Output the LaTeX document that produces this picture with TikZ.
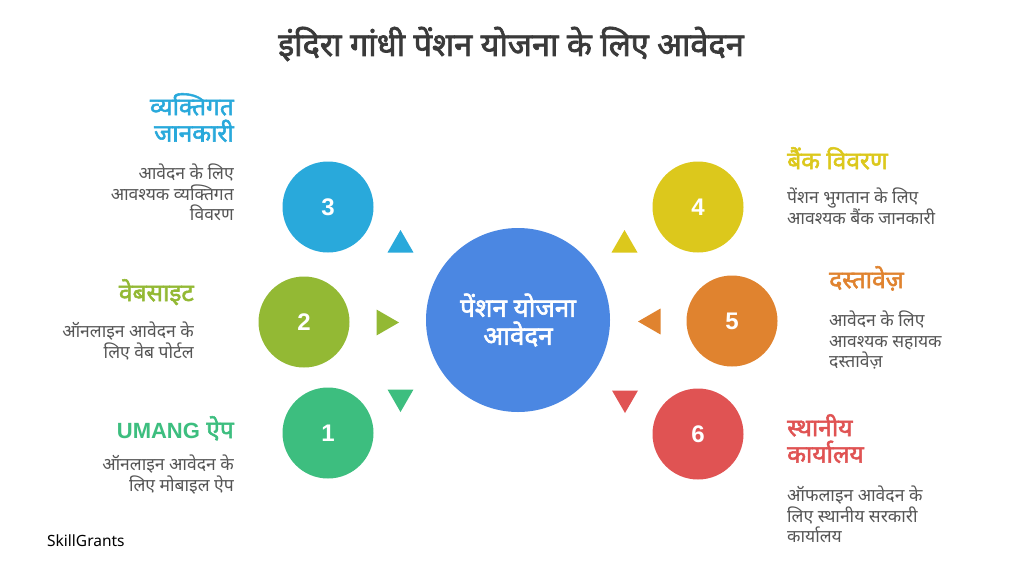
\documentclass[tikz,border=0pt]{standalone}
\usepackage{fontspec}
\setmainfont{Noto Sans}
\newfontfamily\deva[Script=Devanagari, AutoFakeBold=2.2]{Noto Sans}
\newfontfamily\numfont{Liberation Sans}
\usetikzlibrary{shapes.geometric}
\definecolor{cthree}{HTML}{29A9DB}
\definecolor{ctwo}{HTML}{93B934}
\definecolor{cone}{HTML}{3DBE7F}
\definecolor{cfour}{HTML}{DCC81C}
\definecolor{cfive}{HTML}{E0832F}
\definecolor{csix}{HTML}{E05353}
\definecolor{ccenter}{HTML}{4B87E2}
\definecolor{desc}{HTML}{555555}
\definecolor{ttl}{HTML}{3A3A3A}
\tikzset{
  numcirc/.style={circle, minimum size=91pt, inner sep=0pt, text=white, font=\numfont\fontsize{24}{28}\selectfont\bfseries},
  tri/.style={regular polygon, regular polygon sides=3, minimum size=30pt, inner sep=0pt},
  headR/.style={anchor=north east, align=right, inner sep=0pt, font=\deva\fontsize{24.5}{26.5}\selectfont\bfseries},
  headL/.style={anchor=north west, align=left, inner sep=0pt, font=\deva\fontsize{24.5}{26.5}\selectfont\bfseries},
  descR/.style={anchor=north east, align=right, inner sep=0pt, text=desc, font=\deva\fontsize{17.5}{20.5}\selectfont},
  descL/.style={anchor=north west, align=left, inner sep=0pt, text=desc, font=\deva\fontsize{17.5}{20.5}\selectfont},
}
\begin{document}
\begin{tikzpicture}[x=1pt,y=-1pt]
\useasboundingbox[fill=white] (0,0) rectangle (1024,576);
\node[anchor=center, text=ttl, font=\deva\fontsize{32.5}{36}\selectfont\bfseries] (title) at (511,44) {इंदिरा गांधी पेंशन योजना के लिए आवेदन};
\node[circle, minimum size=184pt, inner sep=0pt, fill=ccenter, text=white, align=center, font=\deva\fontsize{26}{28}\selectfont\bfseries] (center) at (518,320) {पेंशन योजना\\आवेदन};
\node[numcirc, fill=cthree] (n3) at (328,207) {3};
\node[numcirc, fill=ctwo] (n2) at (304,322) {2};
\node[numcirc, fill=cone] (n1) at (328,433) {1};
\node[numcirc, fill=cfour] (n4) at (698,207) {4};
\node[numcirc, fill=cfive] (n5) at (732,321) {5};
\node[numcirc, fill=csix] (n6) at (698,434) {6};
\node[tri, fill=cthree] (t3) at (400.5,245) {};
\node[tri, fill=ctwo, shape border rotate=-90] (t2) at (384,322.5) {};
\node[tri, fill=cone, shape border rotate=180] (t1) at (400.5,397) {};
\node[tri, fill=cfour] (t4) at (624.5,245) {};
\node[tri, fill=cfive, shape border rotate=90] (t5) at (653,321.5) {};
\node[tri, fill=csix, shape border rotate=180] (t6) at (625,398) {};
\node[headR, text=cthree] (h3) at (234,93) {व्यक्तिगत\\जानकारी};
\node[descR] (d3) at (234,164) {आवेदन के लिए\\आवश्यक व्यक्तिगत\\विवरण};
\node[headR, text=ctwo] (h2) at (194,279) {वेबसाइट};
\node[descR] (d2) at (194,322) {ऑनलाइन आवेदन के\\लिए वेब पोर्टल};
\node[headR, text=cone] (h1) at (234,416) {{\numfont\bfseries\fontsize{22}{26}\selectfont UMANG} ऐप};
\node[descR] (d1) at (234,455) {ऑनलाइन आवेदन के\\लिए मोबाइल ऐप};
\node[headL, text=cfour] (h4) at (787,147) {बैंक विवरण};
\node[descL] (d4) at (787,188) {पेंशन भुगतान के लिए\\आवश्यक बैंक जानकारी};
\node[headL, text=cfive] (h5) at (829,266) {दस्तावेज़};
\node[descL] (d5) at (829,311) {आवेदन के लिए\\आवश्यक सहायक\\दस्तावेज़};
\node[headL, text=csix] (h6) at (787,414) {स्थानीय\\कार्यालय};
\node[descL] (d6) at (787,486) {ऑफलाइन आवेदन के\\लिए स्थानीय सरकारी\\कार्यालय};
\node[anchor=west, inner sep=0pt, font=\fontsize{15.5}{18}\selectfont] (brand) at (47,541) {SkillGrants};
\end{tikzpicture}
\end{document}
